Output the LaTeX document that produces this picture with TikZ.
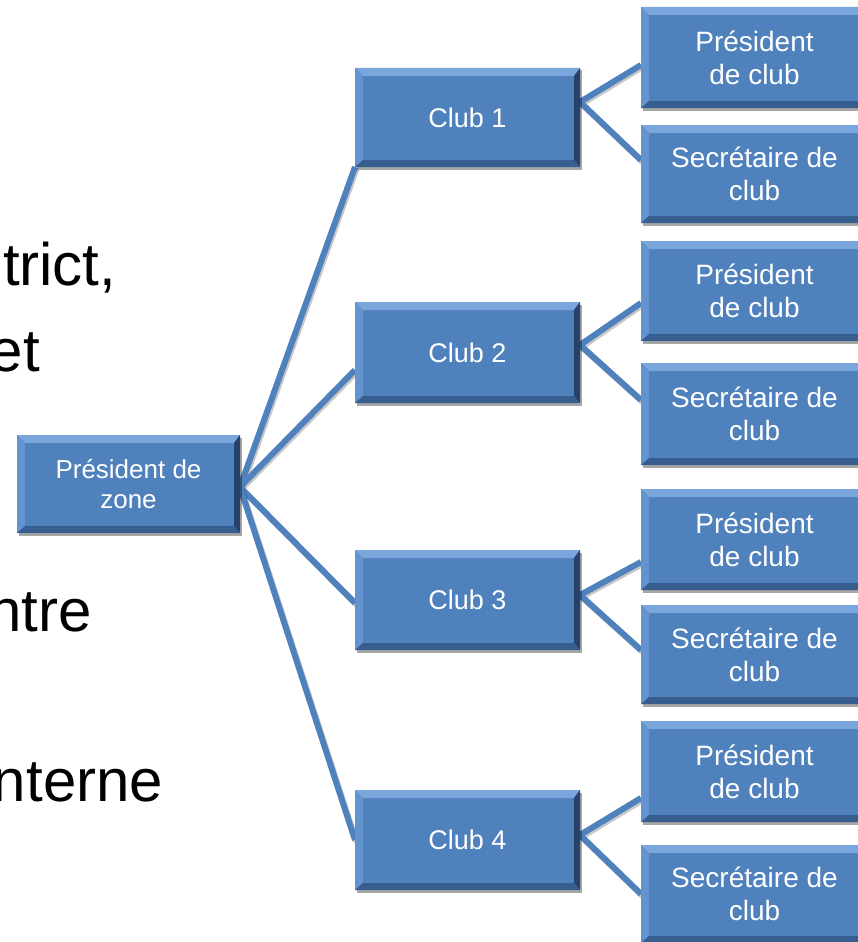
\documentclass[tikz,border=0pt]{standalone}
\usepackage{fontspec}
\setmainfont{Liberation Sans}
\usetikzlibrary{shadows}
\definecolor{face}{RGB}{79,129,189}
\definecolor{bevtop}{RGB}{122,166,220}
\definecolor{bevleft}{RGB}{100,148,207}
\definecolor{bevright}{RGB}{38,66,106}
\definecolor{bevbot}{RGB}{56,94,144}
\definecolor{linkc}{RGB}{79,129,189}
\pgfdeclarelayer{bg}
\pgfsetlayers{bg,main}
\tikzset{
  bevbox/.style={rectangle, anchor=north west, inner sep=0pt, outer sep=0pt,
    fill=face, text=white, align=center,
    drop shadow={shadow xshift=1.5pt, shadow yshift=-2.5pt, opacity=0.35, fill=black},
    path picture={
      \fill[bevtop] (path picture bounding box.north west) -- (path picture bounding box.north east)
        -- ([xshift=-6pt,yshift=-8pt]path picture bounding box.north east)
        -- ([xshift=8pt,yshift=-8pt]path picture bounding box.north west) -- cycle;
      \fill[bevleft] (path picture bounding box.north west) -- ([xshift=8pt,yshift=-8pt]path picture bounding box.north west)
        -- ([xshift=8pt,yshift=7pt]path picture bounding box.south west)
        -- (path picture bounding box.south west) -- cycle;
      \fill[bevright] (path picture bounding box.north east) -- ([xshift=-6pt,yshift=-8pt]path picture bounding box.north east)
        -- ([xshift=-6pt,yshift=7pt]path picture bounding box.south east)
        -- (path picture bounding box.south east) -- cycle;
      \fill[bevbot] (path picture bounding box.south west) -- ([xshift=8pt,yshift=7pt]path picture bounding box.south west)
        -- ([xshift=-6pt,yshift=7pt]path picture bounding box.south east)
        -- (path picture bounding box.south east) -- cycle;
    }},
  zonebox/.style={bevbox, minimum width=223pt, font=\fontsize{26}{30}\selectfont},
  clubbox/.style={bevbox, minimum width=225pt, font=\fontsize{27}{32}\selectfont},
  rolebox/.style={bevbox, minimum width=227pt, font=\fontsize{28}{33}\selectfont},
  link/.style={draw=linkc, line width=6pt,
    preaction={draw=black, opacity=0.22, line width=6pt, transform canvas={xshift=1.5pt,yshift=-2pt}}},
  bigtext/.style={anchor=base west, inner sep=0pt, outer sep=0pt, text=black, font=\fontsize{60}{64}\selectfont}
}
\begin{document}
\begin{tikzpicture}[x=1pt,y=-1pt]
\useasboundingbox (0,0) rectangle (858,942);

% left text (cropped at the left edge, as in the reference)
\node[bigtext] (t1) at (3,285) {trict,};
\node[bigtext] (t2) at (-10,371) {et};
\node[bigtext] (t3) at (-12,631) {ntre};
\node[bigtext] (t4) at (-7,801) {nterne};

% boxes
\node[zonebox, minimum height=98pt] (zone) at (17,435) {Président de\\zone};

\node[clubbox, minimum height=99pt]  (c1) at (355,68)  {Club 1};
\node[clubbox, minimum height=101pt] (c2) at (355,302) {Club 2};
\node[clubbox, minimum height=100pt] (c3) at (355,550) {Club 3};
\node[clubbox, minimum height=100pt] (c4) at (355,790) {Club 4};

\node[rolebox, minimum height=101pt] (p1) at (641,7)   {Président\\de club};
\node[rolebox, minimum height=98pt]  (s1) at (641,125) {Secrétaire de\\club};
\node[rolebox, minimum height=100pt] (p2) at (641,241) {Président\\de club};
\node[rolebox, minimum height=102pt] (s2) at (641,363) {Secrétaire de\\club};
\node[rolebox, minimum height=101pt] (p3) at (641,489) {Président\\de club};
\node[rolebox, minimum height=99pt]  (s3) at (641,605) {Secrétaire de\\club};
\node[rolebox, minimum height=101pt] (p4) at (641,721) {Président\\de club};
\node[rolebox, minimum height=98pt]  (s4) at (641,845) {Secrétaire de\\club};

% background and connectors
\begin{pgfonlayer}{bg}
\fill[white] (0,0) rectangle (858,942);
\draw[link] ([yshift=-3pt]zone.east) -- (c1.south west);
\draw[link] ([yshift=-3pt]zone.east) -- ([yshift=-17.5pt]c2.west);
\draw[link] ([yshift=-3pt]zone.east) -- ([yshift=-3pt]c3.west);
\draw[link] ([yshift=-3pt]zone.east) -- (c4.west);

\draw[link] ([yshift=15.5pt]c1.east) -- ([yshift=-7.5pt]p1.west);
\draw[link] ([yshift=15.5pt]c1.east) -- ([yshift=14pt]s1.west);
\draw[link] ([yshift=7.5pt]c2.east) -- ([yshift=-12pt]p2.west);
\draw[link] ([yshift=7.5pt]c2.east) -- ([yshift=14pt]s2.west);
\draw[link] ([yshift=5pt]c3.east) -- ([yshift=-22.5pt]p3.west);
\draw[link] ([yshift=5pt]c3.east) -- ([yshift=4.5pt]s3.west);
\draw[link] ([yshift=5pt]c4.east) -- ([yshift=-26.5pt]p4.west);
\draw[link] ([yshift=5pt]c4.east) -- (s4.west);
\end{pgfonlayer}
\end{tikzpicture}
\end{document}
